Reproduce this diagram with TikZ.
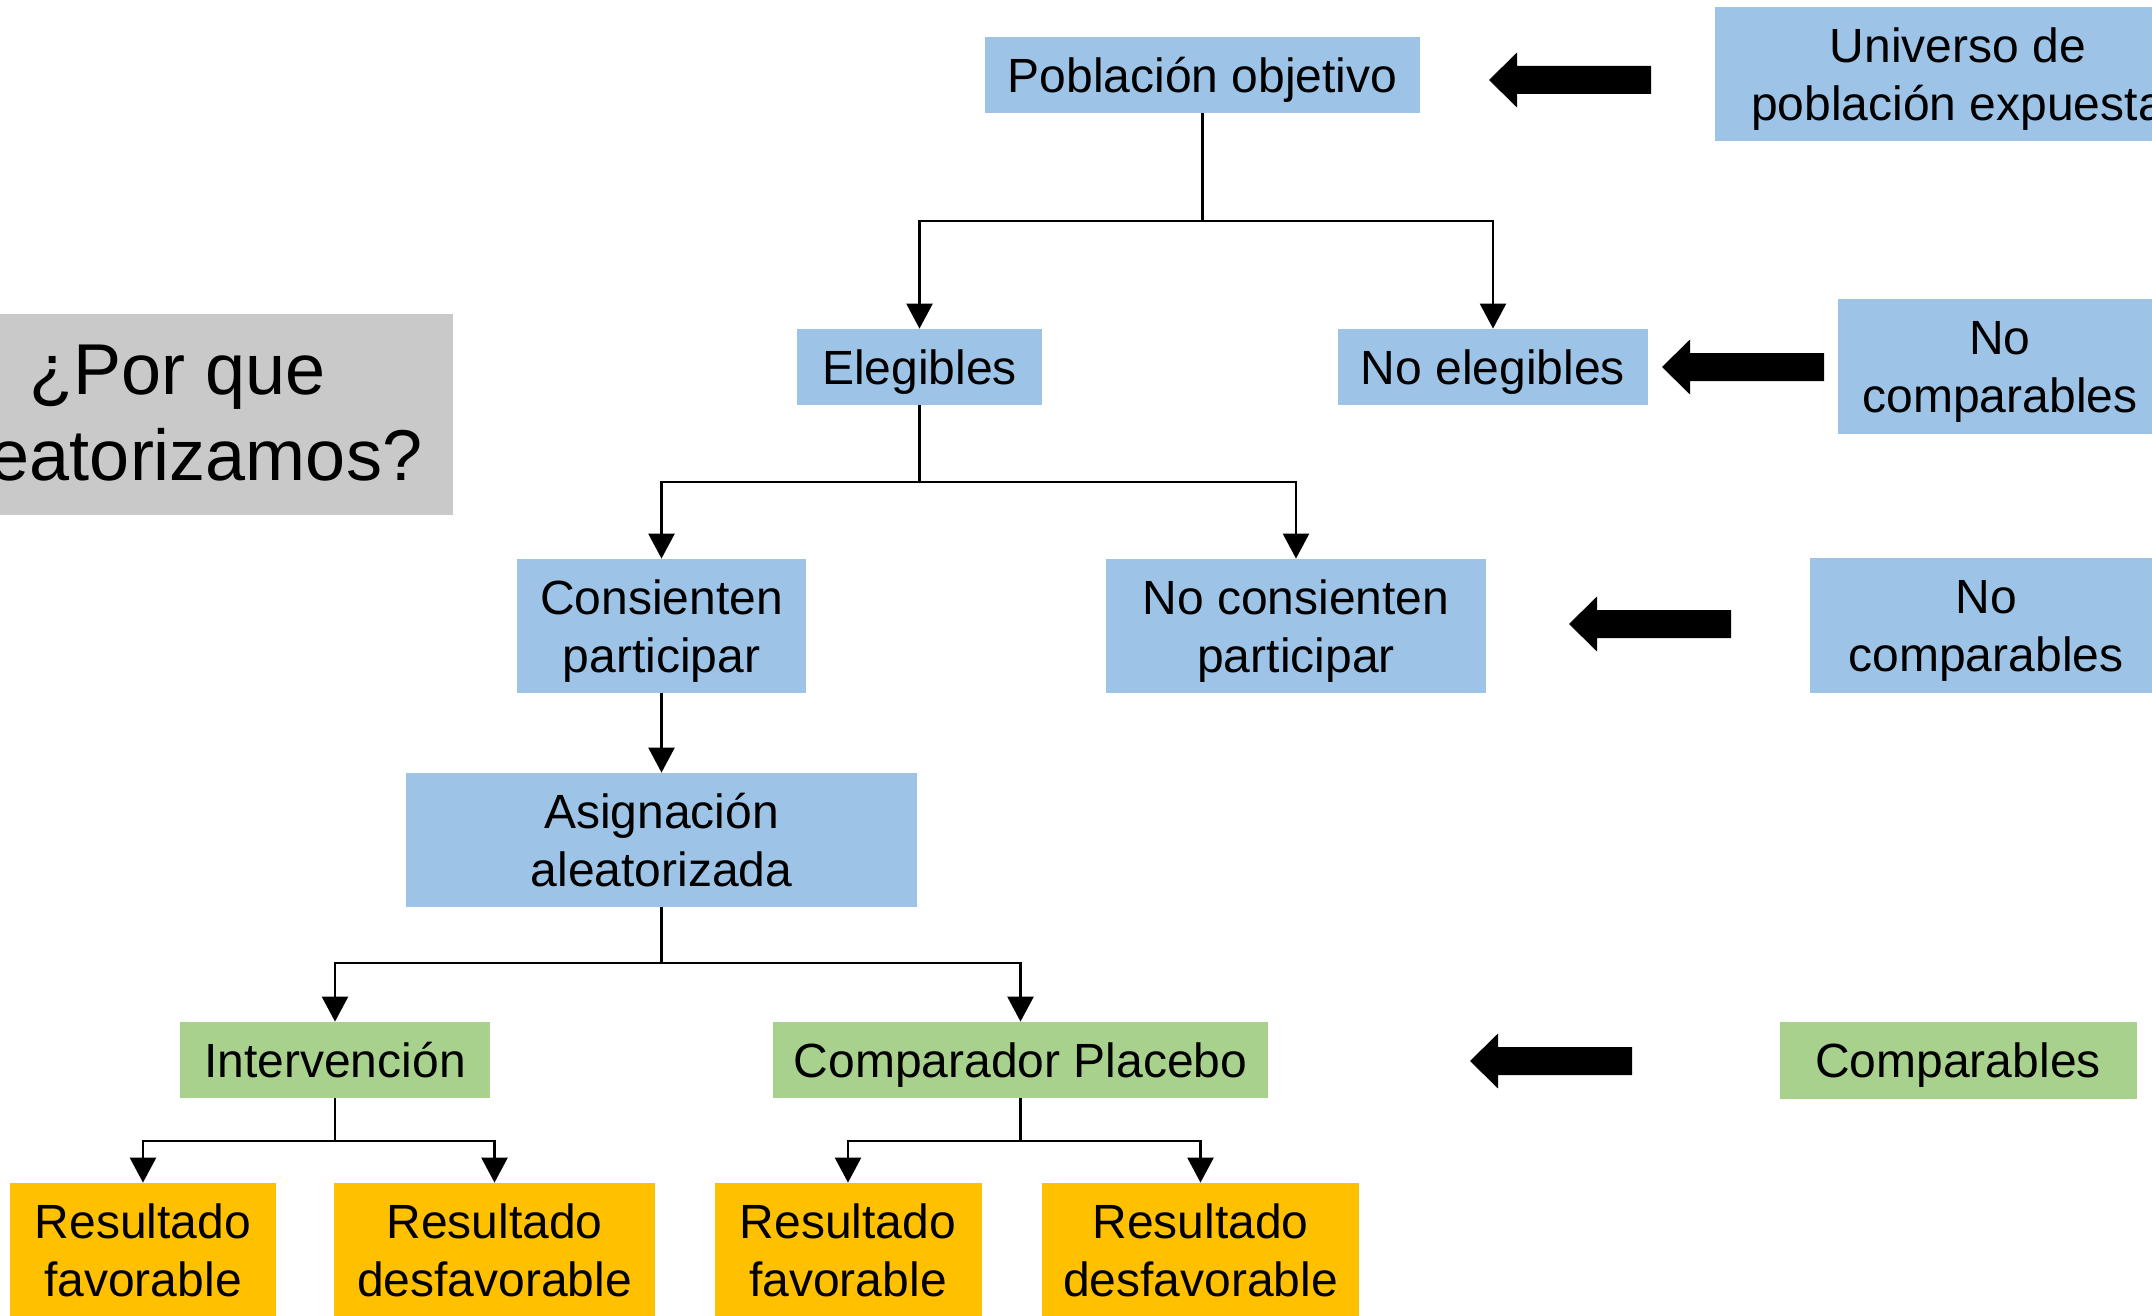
\documentclass[tikz,border=0pt]{standalone}
\usepackage{fontspec}
\setmainfont{Liberation Sans}
\usetikzlibrary{arrows.meta}
\definecolor{boxblue}{HTML}{9DC3E6}
\definecolor{boxgreen}{HTML}{A9D18E}
\definecolor{boxorange}{HTML}{FFC000}
\definecolor{boxgray}{HTML}{C9C9C9}

\begin{document}
\begin{tikzpicture}[x=0.5pt,y=-0.5pt,
  box/.style={inner sep=0pt, align=center, text=black,
    font=\fontsize{24}{29}\selectfont},
  bluebox/.style={box, fill=boxblue},
  greenbox/.style={box, fill=boxgreen},
  orangebox/.style={box, fill=boxorange, tworow},
  % fixed text metrics keep the baselines at the same place in every box
  % (for two lines the box baseline is that of the last line)
  onerow/.style={minimum height=38pt, text height=22pt, text depth=4.8pt},
  tworow/.style={minimum height=67pt, text height=51pt, text depth=4.8pt},
  conn/.style={line width=1.3pt},
  arr/.style={conn, -{Triangle[width=13pt,length=12.5pt]}},
  blockarrow/.pic={\fill[black] (0,0) -- (28,-27.5) -- (28,-14) -- (162,-14)
    -- (162,14) -- (28,14) -- (28,27.5) -- cycle;}
]
\useasboundingbox (0,0) rectangle (2152,1316);
\clip (0,0) rectangle (2152,1316);

% question box on the left
\node[box, fill=boxgray, minimum width=275pt, minimum height=100.5pt,
  text height=66pt, text depth=0pt,
  font=\fontsize{36}{43}\selectfont] (pq) at (178,414.5) {¿Por que\\aleatorizamos?};

% main flow
\node[bluebox, onerow, minimum width=217.5pt] (pob) at (1202.5,75) {Población objetivo};
\node[bluebox, onerow, minimum width=122.5pt] (eleg) at (919.5,367) {Elegibles};
\node[bluebox, onerow, minimum width=155pt] (noeleg) at (1493,367) {No elegibles};
\node[bluebox, tworow, minimum width=144.5pt] (cons) at (661.5,626) {Consienten\\participar};
\node[bluebox, tworow, minimum width=190pt] (nocons) at (1296,626) {No consienten\\participar};
\node[bluebox, tworow, minimum width=255.5pt] (asig) at (661.5,840) {Asignación\\aleatorizada};
\node[greenbox, onerow, minimum width=155pt] (interv) at (335,1060) {Intervención};
\node[greenbox, onerow, minimum width=247.5pt] (compar) at (1020.5,1060) {Comparador Placebo};

% outcomes
\node[orangebox, minimum width=133pt] (rf1) at (143,1250) {Resultado\\favorable};
\node[orangebox, minimum width=160.5pt] (rd1) at (494.5,1250) {Resultado\\desfavorable};
\node[orangebox, minimum width=133.5pt] (rf2) at (848,1250) {Resultado\\favorable};
\node[orangebox, minimum width=158.5pt] (rd2) at (1200.5,1250) {Resultado\\desfavorable};

% right-hand column
\node[bluebox, tworow, minimum width=243pt] (univ) at (1958,74) {Universo de\\población expuesta};
\node[bluebox, tworow, minimum width=162pt, minimum height=67.5pt] (nocomp1) at (2000,366.5) {No\\comparables};
\node[bluebox, tworow, minimum width=176pt, minimum height=67.5pt] (nocomp2) at (1986,625.5) {No\\comparables};
\node[greenbox, onerow, minimum width=178.5pt, minimum height=38.5pt] (comps) at (1958,1060.5) {Comparables};

% branch points
\coordinate (j1) at (1202.5,221);
\coordinate (j2) at (919.5,482);
\coordinate (j3) at (661.5,963);
\coordinate (j4) at (335,1141);
\coordinate (j5) at (1020.5,1141);

% tree connectors
\draw[conn] (pob) -- (j1);
\draw[arr] (j1) -| (eleg.north);
\draw[arr] (j1) -| (noeleg.north);
\draw[conn] (eleg) -- (j2);
\draw[arr] (j2) -| (cons.north);
\draw[arr] (j2) -| (nocons.north);
\draw[arr] (cons) -- (asig);
\draw[conn] (asig) -- (j3);
\draw[arr] (j3) -| (interv.north);
\draw[arr] (j3) -| (compar.north);
\draw[conn] (interv) -- (j4);
\draw[arr] (j4) -| (rf1.north);
\draw[arr] (j4) -| (rd1.north);
\draw[conn] (compar) -- (j5);
\draw[arr] (j5) -| (rf2.north);
\draw[arr] (j5) -| (rd2.north);

% block arrows
\pic at (1489,80) {blockarrow};
\pic at (1662,367) {blockarrow};
\pic at (1569,624) {blockarrow};
\pic at (1470,1061) {blockarrow};
\end{tikzpicture}
\end{document}
